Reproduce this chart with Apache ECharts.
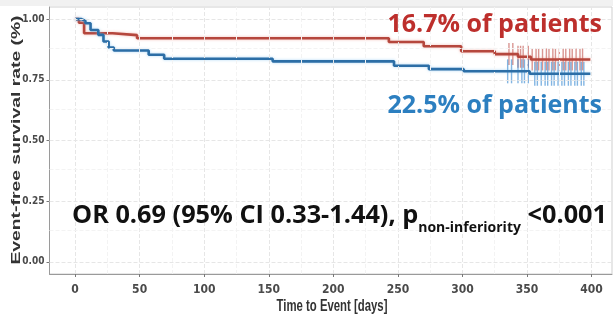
<!DOCTYPE html>
<html><head><meta charset="utf-8">
<script src="https://cdn.jsdelivr.net/npm/echarts@6/dist/echarts.min.js"></script>
<style>html,body{margin:0;padding:0;background:#fff}#c{width:613px;height:321px}</style>
</head><body><div id="c"></div>
<script>
// ---- data ----
const xTicks = [0, 50, 100, 150, 200, 250, 300, 350, 400];
const xMinor = [25, 75, 125, 175, 225, 275, 325, 375];
const yTicks = [0, 0.25, 0.5, 0.75, 1];
const yTickLabels = ['0.00', '0.25', '0.50', '0.75', '1.00'];
const yMinor = [0.125, 0.375, 0.625, 0.875];

const redTime = [0, 3, 7, 29, 48, 243, 270, 299, 325, 343, 353, 399];
const redSurv = [1, 0.985, 0.942, 0.934, 0.921, 0.906, 0.888, 0.868, 0.856, 0.845, 0.834, 0.834];
const blueTime = [0, 5, 8, 12, 18, 22, 26, 30, 57, 69, 153, 247, 274, 301, 352, 399];
const blueSurv = [1, 0.993, 0.983, 0.955, 0.935, 0.908, 0.883, 0.871, 0.853, 0.837, 0.826, 0.808, 0.794, 0.785, 0.775, 0.775];
const redCensor = [336, 339, 343, 345, 347, 351, 354, 357, 359, 362, 365, 367, 370, 372, 375, 378, 380, 383, 385, 388, 391, 393];
const blueCensor = [335, 338, 343, 346, 348, 351, 356, 358, 361, 364, 366, 369, 371, 374, 377, 379, 382, 384, 387, 389, 392, 394];

const redLabel = '16.7% of patients';
const blueLabel = '22.5% of patients';
const xTitle = 'Time to Event [days]';
const yTitle = 'Event-free survival rate (%)';

// ---- helpers ----
function pairs(t, s) { return t.map((v, i) => [v, s[i]]); }
function survAt(t, s, day) {
  let v = s[0];
  for (let i = 0; i < t.length; i++) { if (t[i] <= day) v = s[i]; }
  return v;
}
const RED = '#b5473d', BLUE = '#2c6ea6';
const condensed = "'Liberation Sans Narrow','DejaVu Sans Condensed','Roboto',sans-serif";
const bigFont = "'Open Sans', Lato, sans-serif";

const chart = echarts.init(document.getElementById('c'), null, {renderer: 'canvas'});
const gridMarks = [].concat(
  xMinor.map(v => ({xAxis: v, lineStyle: {color: '#f3f3f3', width: 1}})),
  xTicks.map(v => ({xAxis: v, lineStyle: {color: '#e6e6e6', width: 1}})),
  yMinor.map(v => ({yAxis: v, lineStyle: {color: '#f3f3f3', width: 1}})),
  yTicks.map(v => ({yAxis: v, lineStyle: {color: '#e6e6e6', width: 1}}))
);

chart.setOption({
  animation: false,
  backgroundColor: '#ffffff',
  grid: {left: 49.5, right: 1, top: 7, bottom: 47, containLabel: false, outerBoundsMode: 'none',
         show: true, borderColor: '#cfcfcf', borderWidth: 1, backgroundColor: '#fff'},
  xAxis: {
    type: 'value', min: -19.8, max: 415.8,
    axisLine: {show: true, onZero: false, lineStyle: {color: '#9a9a9a', width: 1}},
    axisTick: {show: true, customValues: xTicks, length: 3, lineStyle: {color: '#777'}},
    axisLabel: {customValues: xTicks, color: '#4a4a4a', fontSize: 12, fontWeight: 'bold', fontFamily: condensed, margin: 10},
    splitLine: {show: false}
  },
  yAxis: {
    type: 'value', min: -0.05, max: 1.05,
    axisLine: {show: true, onZero: false, lineStyle: {color: '#9a9a9a', width: 1}},
    axisTick: {show: true, customValues: yTicks, length: 3, lineStyle: {color: '#777'}},
    axisLabel: {customValues: yTicks, color: '#4a4a4a', fontSize: 10, fontWeight: 'bold', fontFamily: condensed, margin: 5,
      formatter: v => { const i = yTicks.indexOf(v); return i >= 0 ? yTickLabels[i] : ''; }},
    splitLine: {show: false}
  },
  series: [
    {type: 'line', data: [], silent: true,
     markLine: {silent: true, symbol: 'none', label: {show: false}, animation: false, data: gridMarks}},
    {type: 'scatter', data: redCensor.map(d => [d, survAt(redTime, redSurv, d)]), symbol: 'rect', symbolSize: [1.4, 22],
     itemStyle: {color: 'rgba(196,90,85,0.8)'}, silent: true, z: 2},
    {type: 'scatter', data: blueCensor.map(d => [d, survAt(blueTime, blueSurv, d)]), symbol: 'rect', symbolSize: [1.4, 24],
     itemStyle: {color: 'rgba(60,140,210,0.8)'}, silent: true, z: 2},
    {type: 'line', step: 'end', data: pairs(redTime, redSurv), showSymbol: false, z: 3,
     lineStyle: {color: RED, width: 2.6, shadowColor: 'rgba(235,140,130,0.6)', shadowBlur: 3}},
    {type: 'line', step: 'end', data: pairs(blueTime, blueSurv), showSymbol: false, z: 4,
     lineStyle: {color: BLUE, width: 2.6, shadowColor: 'rgba(120,190,240,0.6)', shadowBlur: 3}}
  ],
  graphic: [
    {type: 'rect', shape: {x: 0, y: 0, width: 613, height: 6}, style: {fill: '#f1f1f1'}, z: -10, silent: true},
    // axis titles (stretched like the reference)
    {type: 'text', x: 332, y: 306.5, scaleX: 0.71, z: 100,
     style: {text: xTitle, fill: '#333', font: "bold 16px 'Liberation Sans', Arial, sans-serif", align: 'center', verticalAlign: 'middle'}},
    {type: 'text', x: 17, y: 140, rotation: Math.PI / 2, scaleX: 1.38, scaleY: 0.85, z: 100,
     style: {text: yTitle, fill: '#333', font: "bold 14px 'Liberation Sans', Arial, sans-serif", align: 'center', verticalAlign: 'middle'}},
    {type: 'text', right: 11, top: 12, z: 100,
     style: {text: redLabel, fill: '#bd2f2c', font: "bold 25px " + bigFont}},
    {type: 'text', right: 11, top: 93, z: 100,
     style: {text: blueLabel, fill: '#2c7fc0', font: "bold 25px " + bigFont}},
    {type: 'text', left: 72, top: 203, z: 100,
     style: {
       text: '{a|OR 0.69 (95% CI 0.33-1.44), p}{s|non-inferiority}{a| <0.001}',
       fill: '#111',
       rich: {
         a: {fontSize: 25.3, fontWeight: 'bold', fontFamily: bigFont, fill: '#111', lineHeight: 32, verticalAlign: 'top'},
         s: {fontSize: 14, fontWeight: 'bold', fontFamily: bigFont, fill: '#111', lineHeight: 32, verticalAlign: 'bottom'}
       }
     }}
  ]
});
</script></body></html>
